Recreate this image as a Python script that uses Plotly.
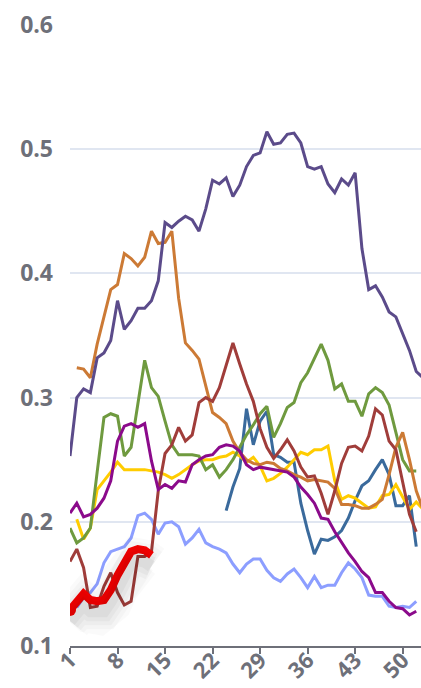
import plotly.graph_objects as go

x = list(range(1, 54))
tick_vals = [1, 8, 15, 22, 29, 36, 43, 50]
tick_text = [str(v) for v in tick_vals]
y_ticks = [0.1, 0.2, 0.3, 0.4, 0.5, 0.6]
y_tick_text = ["0.1", "0.2", "0.3", "0.4", "0.5", "0.6"]

N = None
dark_purple = [0.253, 0.300, 0.307, 0.304, 0.332, 0.336, 0.346, 0.378, 0.355, 0.362,
               0.372, 0.372, 0.378, 0.394, 0.441, 0.437, 0.442, 0.446, 0.443, 0.434,
               0.452, 0.475, 0.472, 0.477, 0.462, 0.471, 0.486, 0.495, 0.497, 0.514,
               0.504, 0.505, 0.512, 0.513, 0.505, 0.486, 0.484, 0.486, 0.472, 0.465,
               0.476, 0.471, 0.481, 0.420, 0.387, 0.390, 0.381, 0.369, 0.365, 0.352,
               0.338, 0.321, 0.316]
orange = [N, 0.324, 0.323, 0.316, 0.343, 0.365, 0.387, 0.391, 0.416, 0.412,
          0.406, 0.413, 0.434, 0.424, 0.425, 0.434, 0.380, 0.344, 0.338, 0.331,
          0.310, 0.288, 0.284, 0.279, 0.265, 0.256, 0.250, 0.247, 0.246, 0.248,
          0.247, 0.243, 0.241, 0.238, 0.236, 0.233, 0.234, 0.233, 0.232, 0.227,
          0.214, 0.214, 0.213, 0.211, 0.211, 0.214, 0.218, 0.238, 0.260, 0.272,
          0.250, 0.225, 0.210]
green = [0.195, 0.183, 0.187, 0.195, 0.240, 0.284, 0.287, 0.285, 0.253, 0.260,
         0.295, 0.330, 0.308, 0.301, 0.281, 0.262, 0.254, 0.254, 0.254, 0.253,
         0.242, 0.246, 0.236, 0.242, 0.250, 0.260, 0.270, 0.278, 0.287, 0.293,
         0.268, 0.279, 0.292, 0.296, 0.312, 0.320, 0.331, 0.343, 0.330, 0.307,
         0.311, 0.297, 0.297, 0.285, 0.303, 0.308, 0.304, 0.294, 0.272, 0.250,
         0.241, 0.241, N]
brown = [0.168, 0.178, 0.163, 0.131, 0.132, 0.148, 0.159, 0.143, 0.133, 0.136,
         0.172, 0.172, 0.176, 0.225, 0.255, 0.262, 0.276, 0.265, 0.270, 0.296,
         0.300, 0.297, 0.308, 0.327, 0.344, 0.327, 0.311, 0.297, 0.275, 0.260,
         0.251, 0.258, 0.266, 0.257, 0.244, 0.236, 0.237, 0.223, 0.206, 0.225,
         0.247, 0.260, 0.261, 0.257, 0.269, 0.291, 0.286, 0.265, 0.258, 0.232,
         0.206, 0.192, N]
magenta = [0.207, 0.215, 0.204, 0.206, 0.211, 0.219, 0.233, 0.265, 0.277, 0.279,
           0.276, 0.279, 0.249, 0.226, 0.230, 0.227, 0.233, 0.232, 0.246, 0.250,
           0.253, 0.254, 0.260, 0.262, 0.261, 0.257, 0.246, 0.242, 0.244, 0.243,
           0.242, 0.241, 0.240, 0.236, 0.228, 0.222, 0.215, 0.203, 0.202, 0.192,
           0.183, 0.175, 0.168, 0.160, 0.155, 0.143, 0.143, 0.136, 0.131, 0.130,
           0.125, 0.128, N]
yellow = [N, 0.202, 0.186, 0.195, 0.226, 0.233, 0.240, 0.248, 0.242, 0.242,
          0.242, 0.242, 0.241, 0.240, 0.238, 0.235, 0.238, 0.242, 0.246, 0.249,
          0.250, 0.250, 0.252, 0.253, 0.256, 0.253, 0.248, 0.252, 0.245, 0.233,
          0.235, 0.239, 0.244, 0.250, 0.256, 0.254, 0.258, 0.258, 0.261, 0.233,
          0.218, 0.221, 0.219, 0.215, 0.211, 0.212, 0.221, 0.222, 0.230, 0.220,
          0.210, 0.216, 0.210]
steel_blue = [N] * 23 + [0.209, 0.228, 0.243, 0.291, 0.262, 0.281, 0.289, 0.254,
              0.252, 0.248, 0.248, 0.215, 0.193, 0.174, 0.186, 0.185, 0.188, 0.193,
              0.203, 0.217, 0.229, 0.233, 0.242, 0.250, 0.238, 0.213, 0.213, 0.221,
              0.180, N]
light_blue = [N, 0.131, 0.139, 0.143, 0.150, 0.167, 0.176, 0.178, 0.180, 0.187,
              0.205, 0.207, 0.202, 0.190, 0.199, 0.200, 0.196, 0.182, 0.187, 0.194,
              0.183, 0.180, 0.178, 0.175, 0.166, 0.159, 0.166, 0.170, 0.170, 0.161,
              0.155, 0.152, 0.158, 0.162, 0.155, 0.147, 0.156, 0.147, 0.149, 0.149,
              0.159, 0.167, 0.162, 0.155, 0.141, 0.140, 0.140, 0.132, 0.131, 0.132,
              0.131, 0.136, N]
red = [0.129, 0.136, 0.142, 0.137, 0.136, 0.137, 0.145, 0.157, 0.167, 0.176,
       0.178, 0.177, 0.173] + [N] * 40

series = [
    ("light blue", light_blue, "#8c9eff"),
    ("steel blue", steel_blue, "#3a6a9c"),
    ("yellow", yellow, "#ffcc00"),
    ("green", green, "#6f9a3f"),
    ("orange", orange, "#cc7a35"),
    ("brown", brown, "#a03d3a"),
    ("magenta", magenta, "#8b0a8b"),
    ("dark purple", dark_purple, "#5b4b8a"),
]

fig = go.Figure()

# soft shadow under the highlighted red series (drawn on a pixel-shifted overlay axis)
for w, op in [(44, 0.018), (36, 0.022), (28, 0.026), (20, 0.03), (12, 0.035)]:
    fig.add_trace(go.Scatter(x=x, y=red, mode="lines", yaxis="y2",
                             line=dict(color=f"rgba(0,0,0,{op})", width=w),
                             hoverinfo="skip", showlegend=False))

for name, vals, col in series:
    fig.add_trace(go.Scatter(x=x, y=vals, mode="lines", name=name,
                             line=dict(color=col, width=3), showlegend=False))

fig.add_trace(go.Scatter(x=x, y=red, mode="lines", name="red",
                         line=dict(color="#ff0000", width=8), showlegend=False))
fig.add_trace(go.Scatter(x=x[:1], y=red[:1], mode="markers",
                         marker=dict(color="#ff0000", size=12), showlegend=False))

font_y = dict(family="Open Sans, Noto Sans, sans-serif", size=23, color="#6e7079", weight=700)
font_x = dict(family="Open Sans, Noto Sans, sans-serif", size=22, color="#6e7079", weight=700)
fig.update_layout(
    width=421, height=688,
    margin=dict(l=70, r=0, t=25, b=42),
    paper_bgcolor="white", plot_bgcolor="white",
    xaxis=dict(range=[1, 52.7], tickvals=tick_vals, ticktext=tick_text,
               tickangle=-45, tickfont=font_x, showgrid=False, zeroline=False,
               showline=True, linecolor="#6e7079", linewidth=1.5, automargin=False,
               ticks="outside", ticklen=6, tickcolor="#6e7079", tickwidth=1.5,
               ticklabelstandoff=-15),
    yaxis=dict(range=[0.1, 0.6], tickvals=y_ticks, ticktext=y_tick_text,
               tickfont=font_y, showgrid=True, gridcolor="#e0e6f1", gridwidth=1.5,
               zeroline=False, showline=False, ticks="", ticklabelstandoff=16,
               automargin=False),
    yaxis2=dict(range=[0.1 + 0.009, 0.6 + 0.009], overlaying="y", visible=False),
)

fig.write_html("out.html", config={"displayModeBar": False},
               post_script="document.body.style.margin='0';document.body.style.overflow='hidden';")
